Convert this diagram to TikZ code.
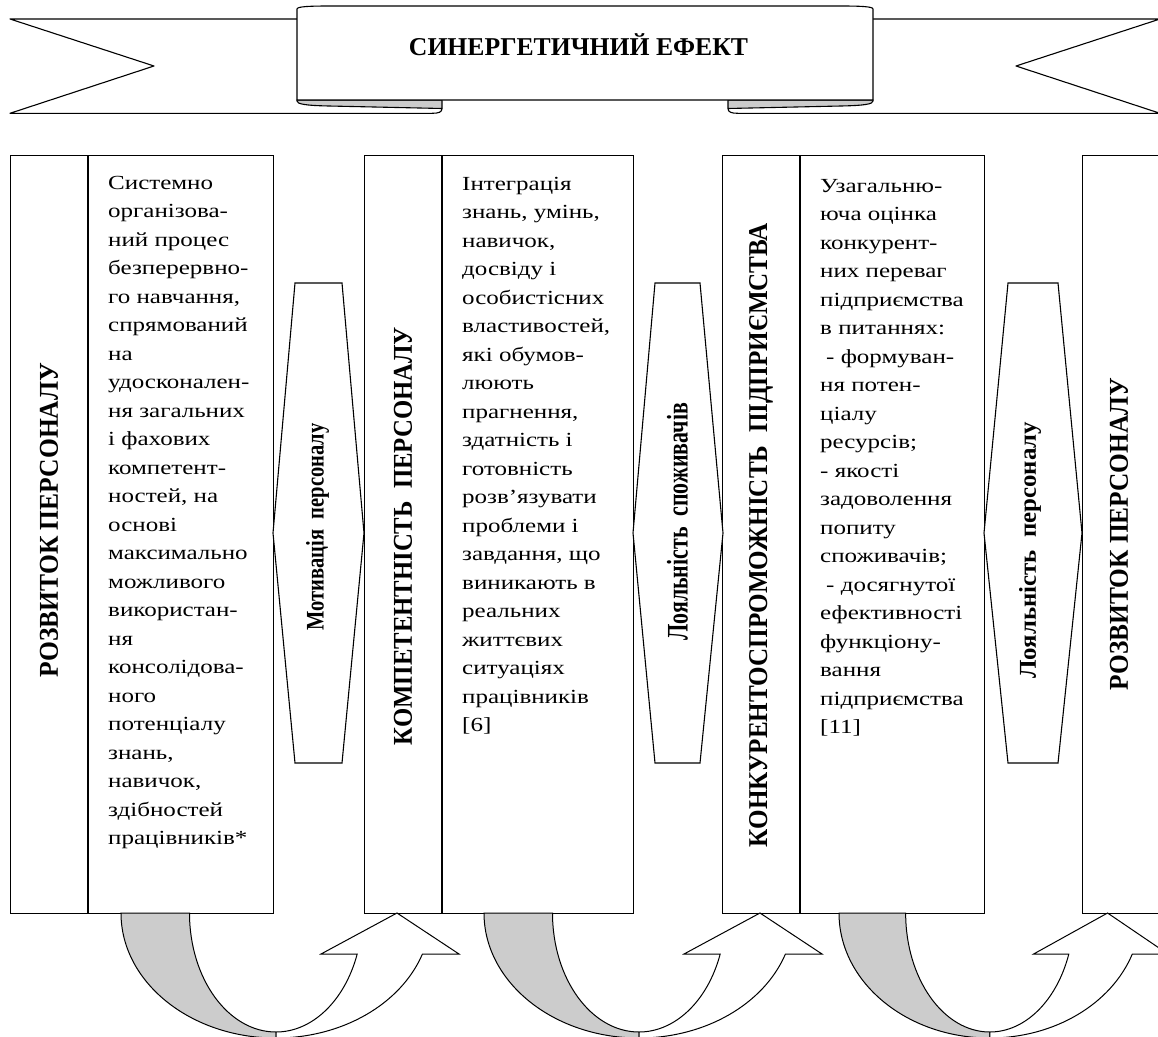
\documentclass[tikz,border=0pt]{standalone}
\usepackage{fontspec}
\usepackage{graphicx}
\setmainfont{Liberation Serif}
\newfontfamily\bodyfont[FakeStretch=1.25]{Liberation Serif}
\definecolor{foldgrey}{RGB}{204,204,204}
\tikzset{
  ln/.style={draw=black, line width=1.1pt, line join=round},
  frame/.style={draw=black, line width=1.2pt, fill=white, inner sep=0pt, anchor=north west},
  hexa/.style={draw=black, line width=1.1pt, fill=white},
  aline/.style={draw=black, line width=1pt},
  bodyline/.style={anchor=base west, inner sep=0pt, font=\bodyfont\fontsize{20}{24}\selectfont},
  vlabel/.style={rotate=90, inner sep=0pt},
}
\newcommand\bodylines[4]{%
  \foreach \lineText [count=\i from 0] in {#4} {
    \node[bodyline, name=#1-\i] at (#2, #3+28.5*\i) {\lineText};
  }}
\newcommand\bannerhalf{%
  \fill[white] (10,19) -- (300,19) -- (300,113.3) -- (10,113.3) -- (154,66) -- cycle;
  \draw[ln] (300,19) -- (10,19) -- (154,66) -- (10,113.3) -- (432,113.3)
     .. controls (439,113.3) and (442,112) .. (442,108.5);
  \filldraw[ln, fill=foldgrey] (297,100) -- (442,100) -- (442,108.5) -- (329,106)
     .. controls (305,105.5) and (297,104) .. (297,101) -- cycle;
}
\newcommand\curvedarrow[2]{%
  \begin{scope}[shift={(#1,913)}, xscale=#2]
    \filldraw[aline, fill=foldgrey] (0,0) arc[start angle=180, end angle=90, x radius=155, y radius=125]
      -- (155,119) arc[start angle=90, end angle=180, x radius=86.5, y radius=119] -- cycle;
    \filldraw[aline, fill=white] (155,119) arc[start angle=90, end angle=20.155, x radius=86.5, y radius=119]
      -- (200,41) -- (276,0) -- (338,41) -- (301.43,41)
      arc[start angle=19.148, end angle=90, x radius=155, y radius=125] -- cycle;
  \end{scope}}
\begin{document}
\begin{tikzpicture}[x=1pt, y=-1pt]
\useasboundingbox (0,0) rectangle (1158,1036);
\clip (0,0) rectangle (1158,1036);
\fill[white] (0,0) rectangle (1158,1036);

% ---- banner ----
\bannerhalf
\begin{scope}[shift={(1170,0)}, xscale=-1]
  \bannerhalf
\end{scope}
\filldraw[ln, fill=white] (297,100) -- (297,9) .. controls (297,6.5) and (310,6) .. (330,6)
   -- (840,6) .. controls (860,6) and (873,6.5) .. (873,9) -- (873,100) -- cycle;
\node[anchor=base, inner sep=0pt] (title) at (578.5,55)
   {\resizebox{339pt}{!}{\bfseries СИНЕРГЕТИЧНИЙ ЕФЕКТ}};

% ---- boxes ----
\node[frame, minimum width=263pt, minimum height=758pt] (box1) at (10,155) {};
\node[frame, minimum width=269pt, minimum height=758pt] (box2) at (364,155) {};
\node[frame, minimum width=262pt, minimum height=758pt] (box3) at (722,155) {};
\node[frame, minimum width=200pt, minimum height=758pt] (box4) at (1082,155) {};
\draw[ln, line width=1.2pt] (88,155) -- (88,913);
\draw[ln, line width=1.2pt] (442,155) -- (442,913);
\draw[ln, line width=1.2pt] (800,155) -- (800,913);

% ---- vertical titles ----
\node[vlabel] (t1) at (49,520) {\resizebox{314pt}{18pt}{\bfseries РОЗВИТОК ПЕРСОНАЛУ}};
\node[vlabel] (t2) at (403,536) {\resizebox{418pt}{18pt}{\bfseries КОМПЕТЕНТНІСТЬ ~ПЕРСОНАЛУ}};
\node[vlabel] (t3) at (761,535) {\resizebox{624pt}{18pt}{\bfseries КОНКУРЕНТОСПРОМОЖНІСТЬ ~ПІДПРИЄМСТВА}};
\node[vlabel] (t4) at (1119,534) {\resizebox{312pt}{18pt}{\bfseries РОЗВИТОК ПЕРСОНАЛУ}};

% ---- body texts ----
\bodylines{d1}{108}{189}{Системно,організова-,{ний процес},безперервно-,{го навчання,},спрямований,на,удосконален-,{ня загальних},{і фахових},компетент-,{ностей, на},основі,максимально,можливого,використан-,ня,консолідова-,ного,потенціалу,{знань,},{навичок,},здібностей,працівників*}
\bodylines{d2}{462}{190}{Інтеграція,{знань, умінь,},{навичок,},{досвіду і},особистісних,{властивостей,},{які обумов-},люють,{прагнення,},{здатність і},готовність,розв’язувати,{проблеми і},{завдання, що},{виникають в},реальних,життєвих,ситуаціях,працівників,{[6]}}
\bodylines{d3}{820}{192}{Узагальню-,{юча оцінка},конкурент-,{них переваг},підприємства,{в питаннях:},{\hspace{6pt}- формуван-},{ня потен-},ціалу,{ресурсів;},{- якості},задоволення,попиту,{споживачів;},{\hspace{6pt}- досягнутої},ефективності,функціону-,вання,підприємства,{[11]}}

% ---- hexagonal arrows ----
\filldraw[hexa] (295,283) -- (342,283) -- (364,533) -- (342,763) -- (295,763) -- (273,533) -- cycle;
\filldraw[hexa] (655,283) -- (700,283) -- (723,533) -- (700,763) -- (655,763) -- (633,533) -- cycle;
\filldraw[hexa] (1008,283) -- (1058,283) -- (1082,533) -- (1058,763) -- (1008,763) -- (984,533) -- cycle;
\node[vlabel] (m1) at (317.5,527) {\resizebox*{207pt}{23pt}{\bfseries Мотивація ~персоналу}};
\node[vlabel] (m2) at (677.5,521.5) {\resizebox*{237pt}{21pt}{\bfseries Лояльність ~споживачів}};
\node[vlabel] (m3) at (1030,550) {\resizebox*{256pt}{22pt}{\bfseries Лояльність ~персоналу}};

% ---- curved arrows ----
\curvedarrow{121}{1}
\curvedarrow{484}{1}
\curvedarrow{839}{0.973}
\end{tikzpicture}
\end{document}
